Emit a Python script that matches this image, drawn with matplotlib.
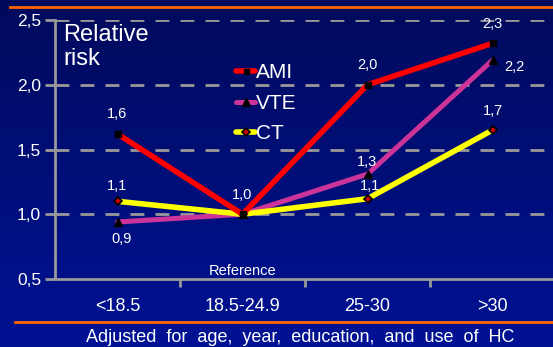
import numpy as np
import matplotlib.pyplot as plt
from matplotlib.colors import LinearSegmentedColormap

plt.rcParams['font.family'] = ['Liberation Sans', 'DejaVu Sans']

categories = ['<18.5', '18.5-24.9', '25-30', '>30']
ami = [1.62, 1.0, 2.0, 2.32]
vte = [0.94, 1.0, 1.31, 2.19]
ct = [1.10, 1.0, 1.12, 1.65]
ami_labels = ['1,6', '1,0', '2,0', '2,3']
vte_labels = ['0,9', '', '1,3', '2,2']
ct_labels = ['1,1', '', '1,1', '1,7']
yticks = [0.5, 1.0, 1.5, 2.0, 2.5]
ytick_labels = ['0,5', '1,0', '1,5', '2,0', '2,5']

fig = plt.figure(figsize=(5.53, 3.47), dpi=100)

# navy gradient background
bg = fig.add_axes([0, 0, 1, 1], zorder=-10)
grad = np.linspace(0, 1, 256).reshape(-1, 1)
cmap = LinearSegmentedColormap.from_list('navy', ['#000a5c', '#001294'])
bg.imshow(grad, aspect='auto', cmap=cmap, extent=[0, 1, 0, 1], origin='upper')
bg.set_axis_off()
bg.plot([10 / 553, 1], [1 - 7 / 347] * 2, color='#ff6600', lw=2)
bg.plot([15 / 553, 1], [1 - 322 / 347] * 2, color='#ff6600', lw=2)
bg.set_xlim(0, 1)
bg.set_ylim(0, 1)
bg.text(300 / 553, 1 - 337 / 347, 'Adjusted  for  age,  year,  education,  and  use  of  HC',
        color='white', fontsize=13, ha='center', va='center')

ax = fig.add_axes([55 / 553, 1 - 279 / 347, 500 / 553, 259 / 347])
ax.set_facecolor('none')
x = np.arange(len(categories))

ax.plot(x, ami, color='#ff0000', lw=4, marker='s', ms=4, mfc='black', mec='black',
        label='AMI', zorder=4, solid_capstyle='round')
ax.plot(x, vte, color='#cc3399', lw=3.6, marker='^', ms=6, mfc='black', mec='black',
        label='VTE', zorder=3, solid_capstyle='round')
ax.plot(x, ct, color='#ffff00', lw=4, marker='D', ms=4.5, mfc='#cc0000', mec='black',
        mew=1.2, label='CT', zorder=3.5, solid_capstyle='round')

for i, (v, t) in enumerate(zip(ami, ami_labels)):
    ax.annotate(t, (i, v), xytext=(0, 9), textcoords='offset points',
                ha='center', va='bottom', color='white', fontsize=10.5)
off_vte = [(3, -12), None, (0, 4), (16, -5)]
for i, (v, t) in enumerate(zip(vte, vte_labels)):
    if t:
        dx, dy = off_vte[i]
        ax.annotate(t, (i, v), xytext=(dx, dy), textcoords='offset points',
                    ha='center', va='center' if dy < 0 else 'bottom',
                    color='white', fontsize=10.5)
off_ct = [(0, 6), None, (2, 4), (0, 9)]
for i, (v, t) in enumerate(zip(ct, ct_labels)):
    if t:
        dx, dy = off_ct[i]
        ax.annotate(t, (i, v), xytext=(dx, dy), textcoords='offset points',
                    ha='center', va='bottom', color='white', fontsize=10.5)

ax.text(1, 0.51, 'Reference', color='white', fontsize=10.5, ha='center', va='bottom')
ax.text(0.016, 0.985, 'Relative\nrisk', transform=ax.transAxes, color='white',
        fontsize=17, ha='left', va='top', linespacing=1.15)

ax.set_xlim(-0.5, 3.5)
ax.set_ylim(0.5, 2.5)
ax.set_yticks(yticks)
ax.set_yticklabels(ytick_labels)
ax.set_xticks(x)
ax.set_xticklabels(categories)
ax.set_xticks([0.5, 1.5, 2.5], minor=True)
ax.tick_params(axis='x', which='major', length=0, pad=14, colors='white', labelsize=13)
ax.tick_params(axis='x', which='minor', length=6, width=2, color='#999999', direction='out')
ax.tick_params(axis='y', length=7, width=2, color='#999999', labelcolor='white',
               labelsize=12.5, pad=3)
for y in yticks[1:]:
    ax.axhline(y, color='#999999', lw=2, dashes=(5, 4), zorder=1)
for s in ['top', 'right']:
    ax.spines[s].set_visible(False)
for s in ['left', 'bottom']:
    ax.spines[s].set_color('#999999')
    ax.spines[s].set_linewidth(2)

leg = ax.legend(loc='upper left', bbox_to_anchor=(0.325, 0.905), frameon=False,
                handlelength=0.9, handletextpad=0.05, labelspacing=0.55,
                fontsize=15, labelcolor='white', markerscale=0.9)

fig.savefig('out.png', dpi=100)
